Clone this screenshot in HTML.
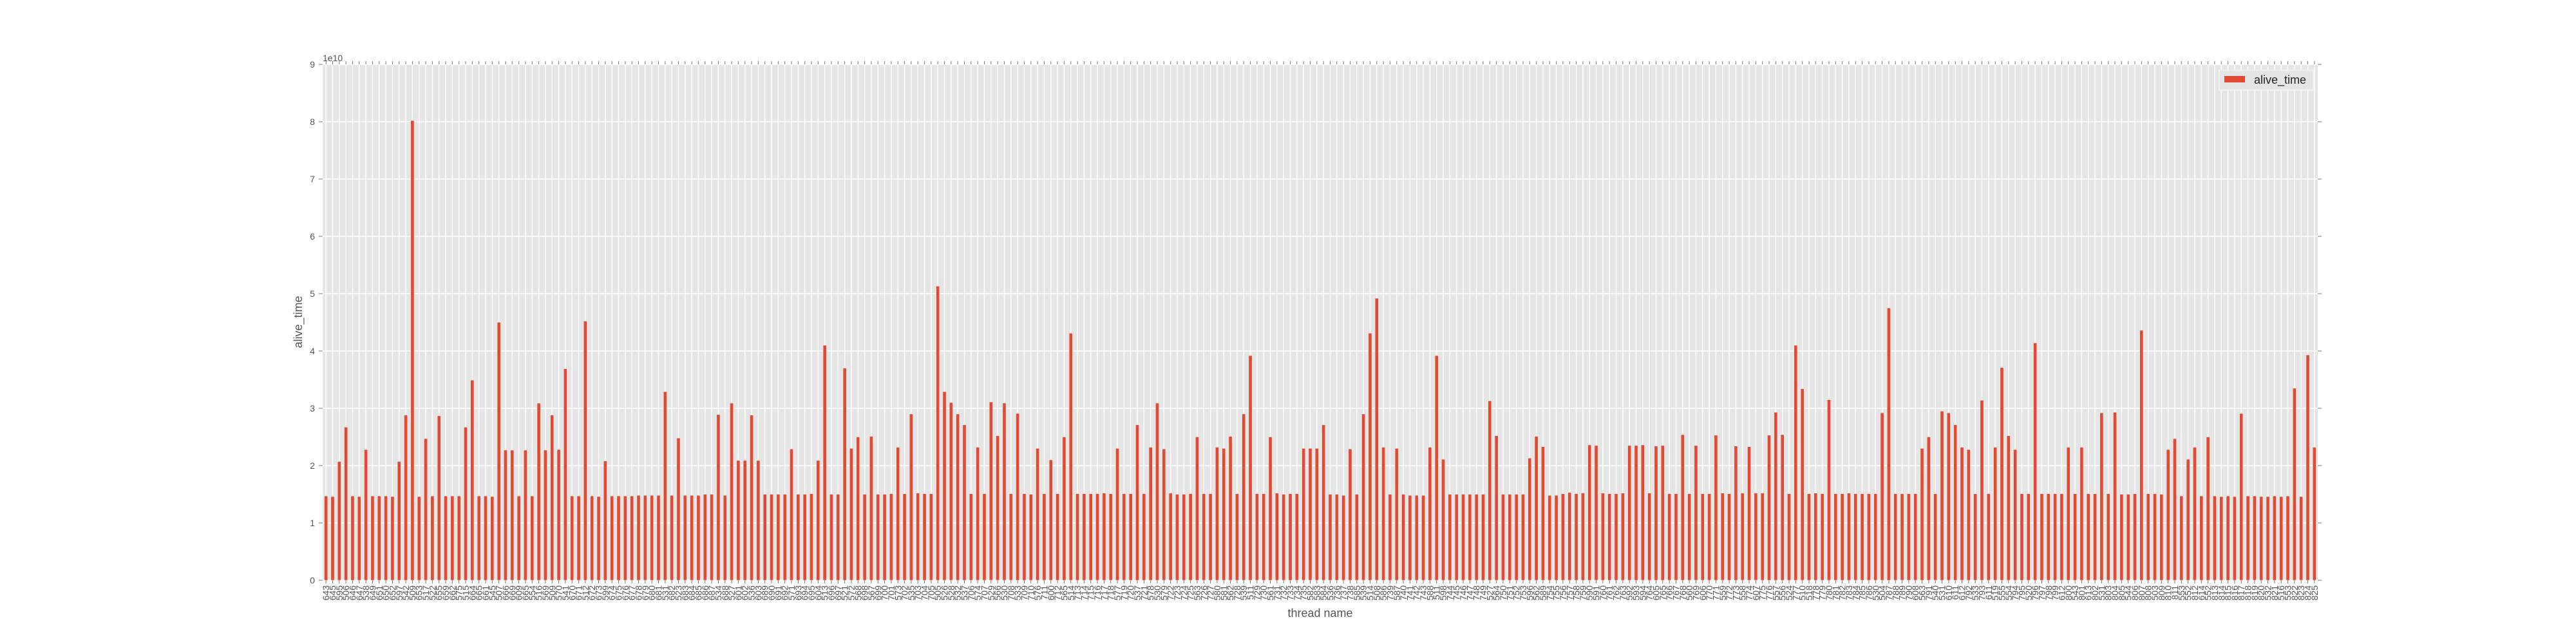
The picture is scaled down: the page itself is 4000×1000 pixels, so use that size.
<!DOCTYPE html>
<html><head><meta charset="utf-8"><style>
html,body{margin:0;padding:0;background:#fff;}
svg{display:block;font-family:"Liberation Sans","DejaVu Sans",sans-serif;}
</style></head><body>
<svg id="chart" width="4000" height="1000" viewBox="0 0 4000 1000" xmlns="http://www.w3.org/2000/svg">
<rect x="501" y="100" width="3098" height="801" fill="#E5E5E5"/>
<g id="grid"></g>
<g id="bars"></g>
<g id="axes"></g>
<text x="501" y="95" font-size="14" fill="#555">1e10</text>
<text x="2050" y="958" font-size="18" fill="#555" text-anchor="middle">thread name</text>
<text x="0" y="0" transform="translate(469,500) rotate(-90)" font-size="18" fill="#555" text-anchor="middle">alive_time</text>
<g>
<rect x="3446" y="109" width="146" height="31" fill="#E5E5E5" stroke="#f4f4f4" stroke-width="1.5"/>
<rect x="3454" y="118" width="32" height="10" fill="#E24A33"/>
<text x="3500" y="130" font-size="18" fill="#222">alive_time</text>
</g>
</svg>
<script>
const values = [1.47,1.46,2.07,2.67,1.47,1.46,2.28,1.47,1.47,1.47,1.46,2.07,2.88,8.02,1.46,2.47,1.47,2.87,1.47,1.47,1.47,2.67,3.49,1.47,1.47,1.46,4.50,2.27,2.27,1.47,2.27,1.47,3.09,2.27,2.88,2.28,3.69,1.47,
1.47,4.52,1.47,1.46,2.08,1.47,1.47,1.47,1.47,1.48,1.48,1.48,1.48,3.29,1.48,2.48,1.48,1.48,1.48,1.50,1.50,2.89,1.48,3.09,2.09,2.09,2.88,2.09,1.50,1.50,1.50,1.50,2.29,1.50,1.50,1.51,2.09,
4.10,1.50,1.50,3.70,2.30,2.50,1.50,2.51,1.50,1.50,1.51,2.32,1.51,2.90,1.52,1.51,1.51,5.13,3.29,3.10,2.90,2.71,1.51,2.32,1.51,3.11,2.52,3.09,1.51,2.91,1.51,1.50,2.30,1.51,2.10,1.51,2.50,4.31,
1.51,1.51,1.51,1.51,1.52,1.51,2.30,1.51,1.51,2.71,1.51,2.32,3.09,2.29,1.52,1.50,1.50,1.51,2.50,1.51,1.51,2.32,2.30,2.51,1.51,2.90,3.92,1.51,1.51,2.50,1.52,1.50,1.51,1.51,2.30,2.30,2.30,
2.71,1.50,1.50,1.48,2.29,1.50,2.90,4.31,4.92,2.32,1.50,2.30,1.50,1.48,1.48,1.48,2.32,3.92,2.11,1.50,1.50,1.50,1.50,1.50,1.50,3.13,2.52,1.50,1.50,1.50,1.50,2.13,2.51,2.33,1.48,1.48,1.51,1.53,
1.51,1.52,2.36,2.35,1.52,1.51,1.51,1.52,2.35,2.35,2.36,1.52,2.34,2.35,1.51,1.51,2.54,1.51,2.35,1.51,1.51,2.53,1.52,1.51,2.34,1.52,2.33,1.52,1.52,2.53,2.93,2.54,1.51,4.10,3.34,1.51,1.52,
1.51,3.15,1.51,1.51,1.52,1.51,1.51,1.51,1.51,2.92,4.75,1.51,1.51,1.51,1.51,2.30,2.50,1.51,2.95,2.92,2.71,2.32,2.28,1.51,3.14,1.51,2.32,3.71,2.52,2.28,1.51,1.51,4.14,1.51,1.51,1.51,1.51,2.32,
1.51,2.32,1.51,1.51,2.92,1.51,2.93,1.50,1.50,1.51,4.36,1.51,1.51,1.50,2.28,2.47,1.47,2.11,2.32,1.47,2.50,1.47,1.46,1.47,1.46,2.91,1.47,1.47,1.46,1.46,1.47,1.46,1.47,3.35,1.46,3.93,2.32];
const categories = ("643 645 595 506 646 647 538 649 651 650 652 597 542 509 653 517 522 655 659 662 575 515 664 665 661 545 507 666 669 609 " +
"665 554 516 569 509 570 541 670 671 512 672 673 599 674 675 676 677 678 679 680 681 531 682 523 683 684 685 686 687 534 " +
"688 527 601 602 536 603 689 690 691 692 571 693 694 695 604 513 696 697 521 572 568 698 567 699 700 701 573 702 535 703 " +
"704 705 505 526 528 532 537 706 574 707 529 566 530 708 533 709 710 576 711 600 712 565 514 713 714 715 716 717 718 577 " +
"719 720 537 721 578 530 579 722 723 724 725 563 726 727 580 581 562 728 539 511 729 730 561 731 732 733 734 735 582 583 " +
"584 536 736 737 738 585 539 514 508 586 739 587 740 741 742 743 588 511 598 744 745 746 747 748 749 527 564 750 751 752 " +
"753 596 562 589 754 755 756 757 758 759 590 591 760 761 762 763 592 593 594 764 605 765 766 767 768 560 769 606 770 771 " +
"559 772 773 558 774 607 775 776 557 556 524 777 510 518 778 779 780 781 782 783 784 785 786 530 504 787 788 789 790 608 " +
"563 791 540 531 610 611 612 792 533 793 611 519 555 554 794 795 520 796 797 798 799 612 800 543 801 613 802 531 803 804 " +
"805 544 806 807 808 503 809 810 811 553 552 812 614 552 813 814 815 816 817 818 819 820 532 821 516 553 822 823 824 825").split(" ");
const yTicks = [0,1,2,3,4,5,6,7,8,9];

const NS = "http://www.w3.org/2000/svg";
const PL = 501, PR = 3599, PT = 100, PB = 901, YMAX = 9;
const n = values.length;
const step = (PR - PL) / n;
function xPos(i){ return PL + step * (i + 0.5); }
function yPos(v){ return PB - (v / YMAX) * (PB - PT); }
function mk(tag, attrs){ const e = document.createElementNS(NS, tag); for (const k in attrs) e.setAttribute(k, attrs[k]); return e; }

const grid = document.getElementById('grid');
const axes = document.getElementById('axes');
const bars = document.getElementById('bars');

yTicks.forEach(function(t){
  const y = yPos(t);
  const gl = mk('line', {x1:PL, x2:PR, y1:y, y2:y, stroke:'#fff', 'stroke-width':1.5});
  
  
  grid.appendChild(gl);
  const tk = mk('line', {x1:PL-6, x2:PL, y1:y, y2:y, stroke:'#777', 'stroke-width':1});
  
  
  axes.appendChild(tk);
  const tk2 = mk('line', {x1:PR, x2:PR+6, y1:y, y2:y, stroke:'#777', 'stroke-width':1});
  
  
  axes.appendChild(tk2);
  const lb = mk('text', {x:PL-12, y:y+5, 'font-size':14, fill:'#555', 'text-anchor':'end'});
  
  
  lb.textContent = String(t);
  axes.appendChild(lb);
});

for (let i = 0; i < n; i++){
  const x = xPos(i);
  const gl = mk('line', {x1:x, x2:x, y1:PT, y2:PB, stroke:'#fff', 'stroke-width':1.5});
  
  
  grid.appendChild(gl);
  const tb = mk('line', {x1:x, x2:x, y1:PB, y2:PB+5, stroke:'#777', 'stroke-width':1});
  
  
  axes.appendChild(tb);
  const tt = mk('line', {x1:x, x2:x, y1:PT-5, y2:PT, stroke:'#777', 'stroke-width':1});
  
  
  axes.appendChild(tt);
  const lb = mk('text', {x:0, y:0, transform:'translate(' + (x+5) + ',' + (PB+8) + ') rotate(-90)', 'font-size':14, fill:'#555', 'text-anchor':'end'});
  
  
  lb.textContent = categories[i] || '';
  axes.appendChild(lb);
  const bw = step * 0.5;
  const r = mk('rect', {x:x - bw/2, y:yPos(values[i]), width:bw, height:PB - yPos(values[i]), fill:'#E24A33', stroke:'#EEE', 'stroke-width':0.5});
  
  
  bars.appendChild(r);
}
</script>
</body></html>
